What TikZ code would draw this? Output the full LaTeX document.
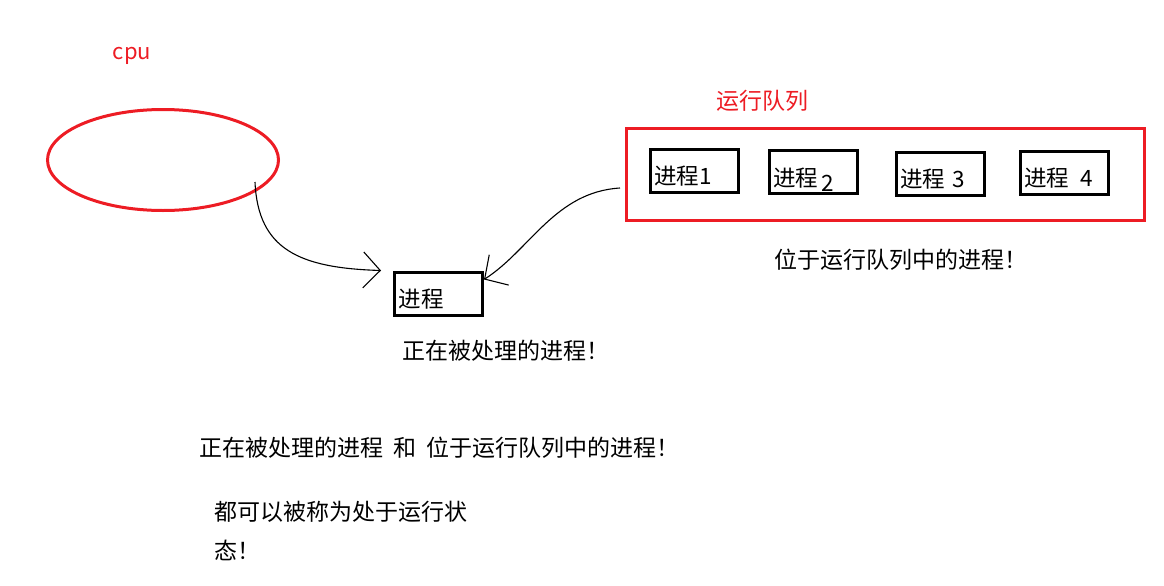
\documentclass[tikz,border=0pt]{standalone}
\usepackage{fontspec}
\newfontfamily\cjk{Noto Sans CJK SC}
\usetikzlibrary{shapes.geometric,arrows.meta}
\definecolor{paintred}{RGB}{237,28,36}
\begin{document}
\begin{tikzpicture}[x=1pt,y=-1pt,
  txt/.style={font=\cjk\fontsize{23}{28}\selectfont,inner sep=0pt,anchor=west},
  redtxt/.style={txt,text=paintred,anchor=center},
  procbox/.style={draw,line width=3pt,minimum height=43pt,text width=80pt,inner xsep=4pt,align=left,
    text height=28pt,text depth=0pt,font=\cjk\fontsize{22.5}{26}\selectfont},
  handarrow/.style={-{Straight Barb[length=17pt,width=36pt]},line width=1.1pt}]
\useasboundingbox (0,0) rectangle (1164,586);
% cpu
\node[redtxt,font=\cjk\fontsize{22}{26}\selectfont] (cpulabel) at (132,56) {cpu};
\node[ellipse,draw=paintred,line width=3pt,minimum width=231pt,minimum height=101pt] (cpu) at (163,160) {};
% run queue
\node[redtxt] (queuelabel) at (762,101) {运行队列};
\node[draw=paintred,line width=3pt,minimum width=518pt,minimum height=92pt] (queue) at (885.5,174.5) {};
\node[procbox] (p1) at (694,170.5) {进程1};
\node[procbox] (p2) at (813,172) {进程\,\raisebox{-5pt}{2}};
\node[procbox] (p3) at (940,173.5) {进程 3};
\node[procbox] (p4) at (1064,172.5) {进程 \,4};
\node[txt] (queuenote) at (774,260) {位于运行队列中的进程！};
% running process
\node[procbox] (run) at (438.5,293.5) {进程};
\node[txt] (runnote) at (402,351) {正在被处理的进程！};
\coordinate (cpustart) at (255,182);
\draw[handarrow] (cpustart) .. controls (258,250) and (300,268) .. ([xshift=-12pt]run.north west);
\draw[handarrow] ([xshift=-5pt,yshift=-13.5pt]queue.west) .. controls (555,192) and (530,250) .. ([yshift=-9pt]run.north east);
% summary
\node[txt] (sum1) at (199,448) {正在被处理的进程 \ 和 \ 位于运行队列中的进程！};
\node[txt] (sum2) at (214,512) {都可以被称为处于运行状};
\node[txt] (sum3) at (214,550) {态！};
\end{tikzpicture}
\end{document}
